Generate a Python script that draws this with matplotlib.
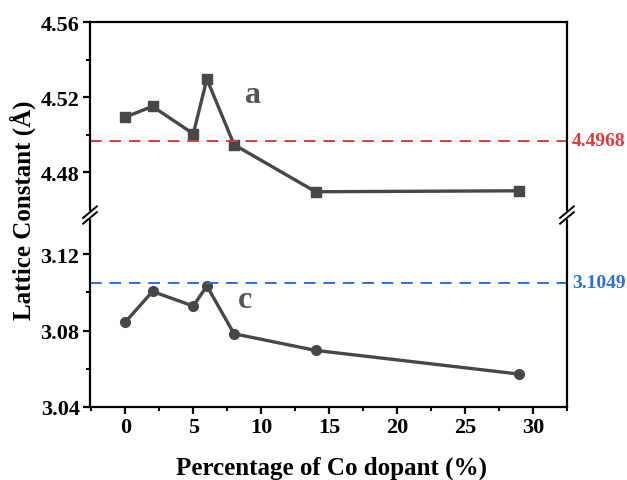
import numpy as np
import matplotlib
matplotlib.use("Agg")
import matplotlib.pyplot as plt

# Co dopant percentage and lattice constants
co_pct = [0, 2, 5, 6, 8, 14, 29]
lat_a = [4.5093, 4.5150, 4.5004, 4.5296, 4.4946, 4.4695, 4.4700]
lat_c = [3.0844, 3.1004, 3.0928, 3.1033, 3.0783, 3.0696, 3.0572]
ref_a = 4.4968
ref_c = 3.1049

plt.rcParams['font.family'] = ['Liberation Serif', 'DejaVu Serif']
plt.rcParams['font.weight'] = 'bold'

line_col = '#474747'
red = '#e0393a'
blue = '#2a72d8'

fig = plt.figure(figsize=(6.27, 4.81), dpi=100)
left, right = 90/627, 567/627
y_top, y_brk, y_bot = 1-23/481, 1-216/481, 1-408/481
ax_t = fig.add_axes([left, y_brk, right-left, y_top-y_brk])
ax_b = fig.add_axes([left, y_bot, right-left, y_brk-y_bot])

for ax in (ax_t, ax_b):
    ax.set_xlim(-2.6, 32.5)
    for s in ax.spines.values():
        s.set_linewidth(1.6)
    ax.tick_params(axis='both', which='major', direction='out', length=5, width=1.6,
                   labelsize=16, pad=2.5, right=False, top=False)
    ax.tick_params(axis='both', which='minor', direction='out', length=3, width=1.4,
                   right=False, top=False)

ax_t.spines['bottom'].set_visible(False)
ax_b.spines['top'].set_visible(False)
ax_t.tick_params(axis='x', which='both', bottom=False, labelbottom=False)

ax_t.set_ylim(4.4571, 4.56)
ax_t.set_yticks([4.48, 4.52, 4.56])
ax_t.set_yticks([4.50, 4.54], minor=True)
ax_b.set_ylim(3.04, 3.1404)
ax_b.set_yticks([3.04, 3.08, 3.12])
ax_b.set_yticks([3.06, 3.10], minor=True)
ax_b.set_xticks([0, 5, 10, 15, 20, 25, 30])
ax_b.set_xticks(np.arange(-2.5, 33, 2.5), minor=True)
ax_t.yaxis.set_major_formatter(matplotlib.ticker.FormatStrFormatter('%.2f'))
ax_b.yaxis.set_major_formatter(matplotlib.ticker.FormatStrFormatter('%.2f'))

ax_t.plot(co_pct, lat_a, color=line_col, lw=2.4, marker='s', ms=6.5)
ax_b.plot(co_pct, lat_c, color=line_col, lw=2.4, marker='o', ms=7)
ax_t.axhline(ref_a, color=red, lw=1.4, ls=(0, (6, 4)))
ax_b.axhline(ref_c, color=blue, lw=1.4, ls=(0, (6, 4)))

ax_t.text(9.4, 4.5216, 'a', fontsize=23, color='#555555', ha='center', va='center')
ax_b.text(8.8, 3.0963, 'c', fontsize=23, color='#555555', ha='center', va='center')
ax_t.text(1.01, ref_a, '4.4968', transform=ax_t.get_yaxis_transform(), color=red,
          fontsize=14, va='center', ha='left')
ax_b.text(1.01, ref_c, '3.1049', transform=ax_b.get_yaxis_transform(), color=blue,
          fontsize=14, va='center', ha='left')

# break marks on both side spines
for xf in (left, right):
    fig.add_artist(plt.Line2D([xf, xf], [y_brk-0.004, y_brk+0.004], color='white',
                              lw=3, transform=fig.transFigure))
    for dy in (-0.006, 0.006):
        fig.add_artist(plt.Line2D([xf-0.011, xf+0.011], [y_brk+dy-0.012, y_brk+dy+0.012],
                                  color='black', lw=1.4, transform=fig.transFigure))

fig.text(23/627, 1-210/481, 'Lattice Constant (Å)', rotation=90, fontsize=18,
         ha='center', va='center')
fig.text(331/627, 1-468/481, 'Percentage of Co dopant (%)', fontsize=18,
         ha='center', va='center')

fig.savefig('out.png', dpi=100)
